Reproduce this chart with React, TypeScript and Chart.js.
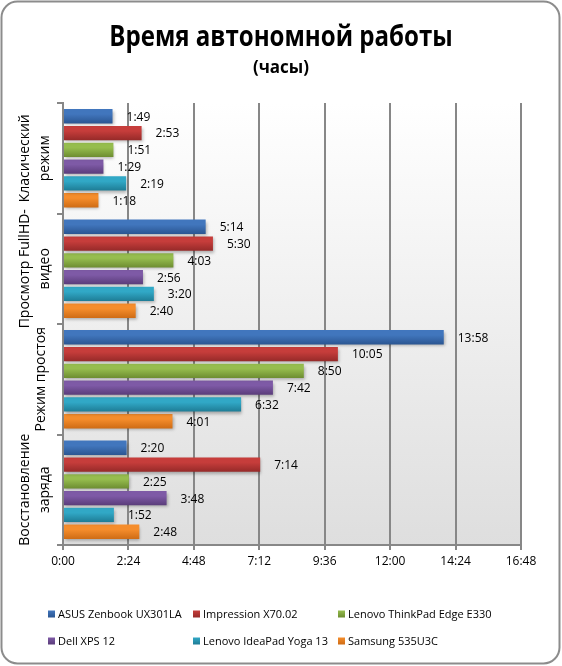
import React, { useEffect, useRef } from "react";
import { Chart, registerables } from "chart.js";

Chart.register(...registerables);

// ---- data ----
const categories: string[][] = [
  ["Класический", "режим"],
  ["Просмотр FullHD-", "видео"],
  ["Режим простоя"],
  ["Восстановление", "заряда"],
];
const seriesNames = [
  "ASUS Zenbook UX301LA",
  "Impression X70.02",
  "Lenovo ThinkPad Edge E330",
  "Dell XPS 12",
  "Lenovo IdeaPad Yoga 13",
  "Samsung 535U3C",
];
// values in minutes
const asusZenbook = [109, 314, 838, 140];
const impression = [173, 330, 605, 434];
const thinkPadEdge = [111, 243, 530, 145];
const dellXps = [89, 176, 462, 228];
const ideaPadYoga = [139, 200, 392, 112];
const samsung535 = [78, 160, 241, 168];
const seriesValues = [asusZenbook, impression, thinkPadEdge, dellXps, ideaPadYoga, samsung535];

const axisMin = 0;
const axisMax = 1008;
const axisStep = 144;

const seriesColors: [string, string][] = [
  ["#4176bd", "#2b5692"],
  ["#c63d3b", "#962a29"],
  ["#96bd4e", "#6d8d31"],
  ["#7e5aa6", "#5a3c7a"],
  ["#31a8c6", "#1e7c95"],
  ["#f58d2c", "#cf6c15"],
];

const FONT = "'Open Sans', 'DejaVu Sans', sans-serif";

function fmt(mins: number): string {
  const h = Math.floor(mins / 60);
  const m = Math.round(mins - h * 60);
  return `${h}:${m < 10 ? "0" : ""}${m}`;
}

const decorPlugin = {
  id: "decor",
  beforeDraw(chart: any) {
    const { ctx, chartArea: a } = chart;
    ctx.save();
    ctx.fillStyle = "#ffffff";
    ctx.fillRect(0, 0, chart.width, chart.height);
    // frame
    ctx.beginPath();
    ctx.roundRect(1.5, 1.5, chart.width - 4, chart.height - 4, 16);
    ctx.lineWidth = 2;
    ctx.strokeStyle = "#8c8c8c";
    ctx.stroke();
    // plot background
    const g = ctx.createLinearGradient(0, a.top, 0, a.bottom);
    g.addColorStop(0, "#ffffff");
    g.addColorStop(1, "#dedede");
    ctx.fillStyle = g;
    ctx.fillRect(a.left, a.top, a.right - a.left, a.bottom - a.top);
    ctx.restore();
  },
  afterDatasetsUpdate(chart: any) {
    const ctx = chart.ctx;
    chart.data.datasets.forEach((ds: any, di: number) => {
      const meta = chart.getDatasetMeta(di);
      const [c1, c2] = seriesColors[di];
      meta.data.forEach((el: any) => {
        const h = el.height;
        const g = ctx.createLinearGradient(0, el.y - h / 2, 0, el.y + h / 2);
        g.addColorStop(0, c1);
        g.addColorStop(0.35, c1);
        g.addColorStop(1, c2);
        el.options = Object.assign({}, el.options, { backgroundColor: g });
      });
    });
  },
  beforeDatasetDraw(chart: any) {
    const ctx = chart.ctx;
    ctx.save();
    ctx.shadowColor = "rgba(0,0,0,0.28)";
    ctx.shadowBlur = 3;
    ctx.shadowOffsetX = 1;
    ctx.shadowOffsetY = 2;
  },
  afterDatasetDraw(chart: any) {
    chart.ctx.restore();
  },
  afterDatasetsDraw(chart: any) {
    const ctx = chart.ctx;
    ctx.save();
    ctx.font = `12px ${FONT}`;
    ctx.fillStyle = "#000000";
    ctx.textBaseline = "middle";
    ctx.textAlign = "left";
    chart.data.datasets.forEach((ds: any, di: number) => {
      const meta = chart.getDatasetMeta(di);
      meta.data.forEach((el: any, i: number) => {
        ctx.fillText(fmt(ds.data[i]), el.x + 14, el.y + 1);
      });
    });
    ctx.restore();
  },
  afterDraw(chart: any) {
    const ctx = chart.ctx;
    const yScale = chart.scales.y;
    ctx.save();
    // category labels (rotated)
    ctx.font = `14px ${FONT}`;
    ctx.fillStyle = "#000000";
    ctx.textAlign = "center";
    ctx.textBaseline = "middle";
    categories.forEach((lines, i) => {
      const y = yScale.getPixelForValue(i);
      const n = lines.length;
      const lh = 20;
      const center = 41 - (n - 1) * 6;
      lines.forEach((line, li) => {
        const x = center + (li - (n - 1) / 2) * lh;
        ctx.save();
        ctx.translate(x, y);
        ctx.rotate(-Math.PI / 2);
        ctx.fillText(line, 0, 0);
        ctx.restore();
      });
    });
    // title
    ctx.save();
    ctx.translate(chart.width / 2, 38);
    ctx.scale(0.86, 1);
    ctx.font = `bold 28px ${FONT}`;
    ctx.fillText("Время автономной работы", 0, 0);
    ctx.restore();
    ctx.font = `bold 17px ${FONT}`;
    ctx.fillText("(часы)", chart.width / 2, 68);
    // legend
    const cols = [48, 193, 338];
    const rows = [614, 641];
    ctx.font = `11px ${FONT}`;
    ctx.textAlign = "left";
    chart.data.datasets.forEach((ds: any, di: number) => {
      const x = cols[di % 3];
      const y = rows[Math.floor(di / 3)];
      const [c1, c2] = seriesColors[di];
      const g = ctx.createLinearGradient(0, y - 3.5, 0, y + 3.5);
      g.addColorStop(0, c1);
      g.addColorStop(1, c2);
      ctx.fillStyle = g;
      ctx.fillRect(x, y - 3.5, 7, 7);
      ctx.fillStyle = "#000000";
      ctx.fillText(ds.label, x + 10, y + 1);
    });
    ctx.restore();
  },
};

export default function App() {
  const ref = useRef<HTMLCanvasElement | null>(null);
  useEffect(() => {
    if (!ref.current) return;
    const chart = new Chart(ref.current, {
      type: "bar",
      data: {
        labels: categories.map((c) => c.join(" ")),
        datasets: seriesNames.map((name, i) => ({
          label: name,
          data: seriesValues[i],
          backgroundColor: seriesColors[i][0],
          borderWidth: 0,
          categoryPercentage: 0.912,
          barPercentage: 0.85,
        })),
      },
      options: {
        indexAxis: "y",
        responsive: false,
        animation: false,
        layout: { padding: { top: 103, right: 41, left: 0, bottom: 0 } },
        plugins: {
          legend: { display: false },
          title: { display: false },
          tooltip: { enabled: false },
        },
        scales: {
          x: {
            type: "linear",
            min: axisMin,
            max: axisMax,
            afterFit: (s: any) => {
              s.height = 121;
            },
            ticks: {
              stepSize: axisStep,
              padding: 4,
              color: "#000000",
              font: { family: FONT, size: 12 },
              callback: (v: any) => fmt(Number(v)),
            },
            grid: {
              color: "#878787",
              lineWidth: 2,
              tickLength: 5,
              drawOnChartArea: true,
            },
            border: { color: "#878787", width: 2 },
          },
          y: {
            type: "category",
            offset: true,
            afterFit: (s: any) => {
              s.width = 63;
            },
            ticks: { display: false },
            grid: {
              offset: true,
              drawOnChartArea: false,
              color: "#878787",
              lineWidth: 2,
              tickLength: 6,
            },
            border: { color: "#878787", width: 2 },
          },
        },
      },
      plugins: [decorPlugin],
    });
    return () => chart.destroy();
  }, []);
  return (
    <div style={{ position: "absolute", left: 0, top: 0, width: 562, height: 666 }}>
      <canvas ref={ref} width={562} height={666} />
    </div>
  );
}
